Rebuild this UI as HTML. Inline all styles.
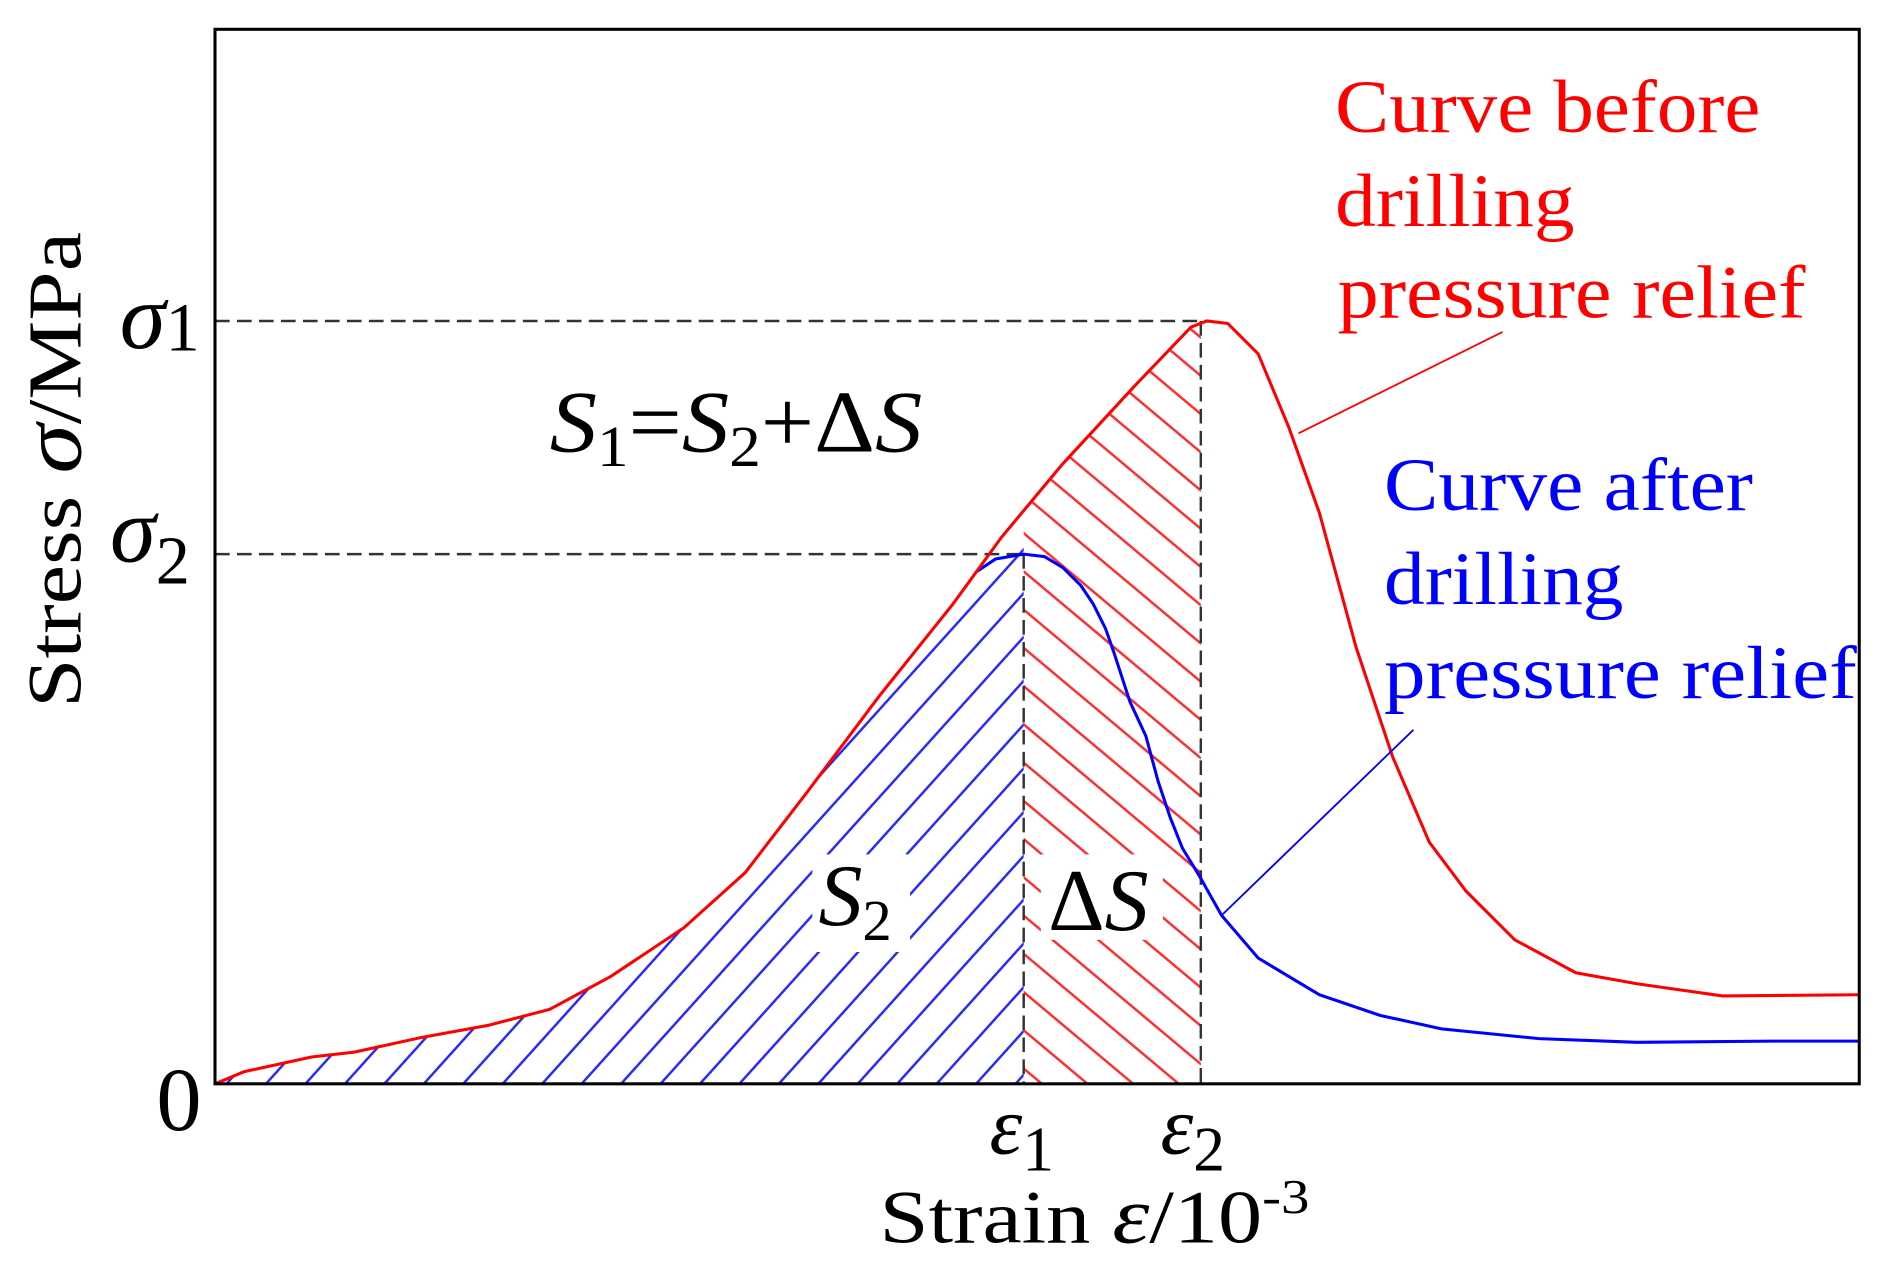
<!DOCTYPE html>
<html><head><meta charset="utf-8"><style>
html,body{margin:0;padding:0;background:#fff;}
svg{display:block;}
text{font-family:"Liberation Serif",serif;}
</style></head><body>
<svg width="1902" height="1273" viewBox="0 0 1557 1043" preserveAspectRatio="none" xmlns="http://www.w3.org/2000/svg">
<defs>
<pattern id="hb" patternUnits="userSpaceOnUse" width="24" height="24" patternTransform="rotate(-48)">
<line x1="0" y1="12" x2="24" y2="12" stroke="#2a2aff" stroke-width="2"/>
</pattern>
<pattern id="hr" patternUnits="userSpaceOnUse" width="24" height="24" patternTransform="rotate(40)">
<line x1="0" y1="12" x2="24" y2="12" stroke="#ff3030" stroke-width="2"/>
</pattern>
</defs>
<rect width="1557" height="1043" fill="#fff"/>
<polygon fill="url(#hb)" points="176,888 200,878 255,866 290,862 345,850 400,840 450,827 500,800 560,760 610,715 660,650 720,570 780,495 820,440 838,418 838,888"/>
<polygon fill="url(#hr)" points="838,418 870,380 930,315 975,268 983,264 983,888 838,888"/>
<rect x="665" y="700" width="80" height="80" fill="#fff"/>
<rect x="852" y="700" width="100" height="70" fill="#fff"/>
<g stroke="#333" stroke-width="2" stroke-dasharray="12,6" fill="none">
<line x1="176" y1="263" x2="990" y2="263"/>
<line x1="176" y1="454" x2="838" y2="454"/>
<line x1="838" y1="454" x2="838" y2="888"/>
<line x1="983" y1="263" x2="983" y2="888"/>
</g>
<polyline fill="none" stroke="#0000ff" stroke-width="2.5" points="800,468 815,458 838,454 855,456 870,465 885,480 895,495 905,515 912,535 925,575 938,603 948,640 958,670 968,695 982,718 1000,750 1030,785 1080,815 1130,832 1180,843 1260,851 1340,854 1450,853 1522,853"/>
<polyline fill="none" stroke="#ff0000" stroke-width="2.5" points="176,888 200,878 255,866 290,862 345,850 400,840 450,827 500,800 560,760 610,715 660,650 720,570 780,495 820,440 870,380 930,315 975,268 988,263 1005,265 1030,290 1055,350 1080,420 1110,530 1140,620 1170,690 1200,730 1240,770 1290,797 1340,806 1410,816 1522,815"/>
<line x1="1230" y1="272" x2="1063" y2="355" stroke="#ff0000" stroke-width="1.5"/>
<line x1="1157" y1="598" x2="1000" y2="750" stroke="#0000ff" stroke-width="1.5"/>
<rect x="176" y="24" width="1346" height="864" fill="none" stroke="#000" stroke-width="2.5"/>
<g fill="#ff0000" font-size="62">
<text x="1093" y="108" textLength="348" lengthAdjust="spacingAndGlyphs">Curve before</text>
<text x="1093" y="185" textLength="196" lengthAdjust="spacingAndGlyphs">drilling</text>
<text x="1095" y="260" textLength="383" lengthAdjust="spacingAndGlyphs">pressure relief</text>
</g>
<g fill="#0000ff" font-size="62">
<text x="1133" y="418" textLength="302" lengthAdjust="spacingAndGlyphs">Curve after</text>
<text x="1133" y="495" textLength="196" lengthAdjust="spacingAndGlyphs">drilling</text>
<text x="1133" y="572" textLength="387" lengthAdjust="spacingAndGlyphs">pressure relief</text>
</g>
<text x="450" y="370" font-size="72" textLength="305" lengthAdjust="spacingAndGlyphs"><tspan font-style="italic">S</tspan><tspan font-size="48" dy="12">1</tspan><tspan dy="-12">=</tspan><tspan font-style="italic">S</tspan><tspan font-size="48" dy="12">2</tspan><tspan dy="-12">+Δ</tspan><tspan font-style="italic">S</tspan></text>
<text x="670" y="758" font-size="72"><tspan font-style="italic">S</tspan><tspan font-size="48" dy="12">2</tspan></text>
<text x="858" y="762" font-size="72">Δ<tspan font-style="italic">S</tspan></text>
<text x="98" y="285" font-size="76" font-style="italic">σ<tspan font-size="56" font-style="normal" dy="2">1</tspan></text>
<text x="90" y="460" font-size="76" font-style="italic">σ<tspan font-size="56" font-style="normal" dy="18">2</tspan></text>
<text x="128" y="926" font-size="74">0</text>
<text x="810" y="945" font-size="68" font-style="italic">ε<tspan font-size="52" font-style="normal" dy="14">1</tspan></text>
<text x="950" y="945" font-size="68" font-style="italic">ε<tspan font-size="52" font-style="normal" dy="14">2</tspan></text>
<text x="720" y="1018" font-size="62" textLength="352" lengthAdjust="spacingAndGlyphs">Strain  <tspan font-style="italic" font-size="66">ε</tspan>/10<tspan font-size="40" dy="-24">-3</tspan></text>
<text transform="translate(66,385) rotate(-90)" text-anchor="middle" font-size="62" textLength="390" lengthAdjust="spacingAndGlyphs">Stress  <tspan font-style="italic" font-size="70">σ</tspan>/MPa</text>
</svg>
</body></html>
